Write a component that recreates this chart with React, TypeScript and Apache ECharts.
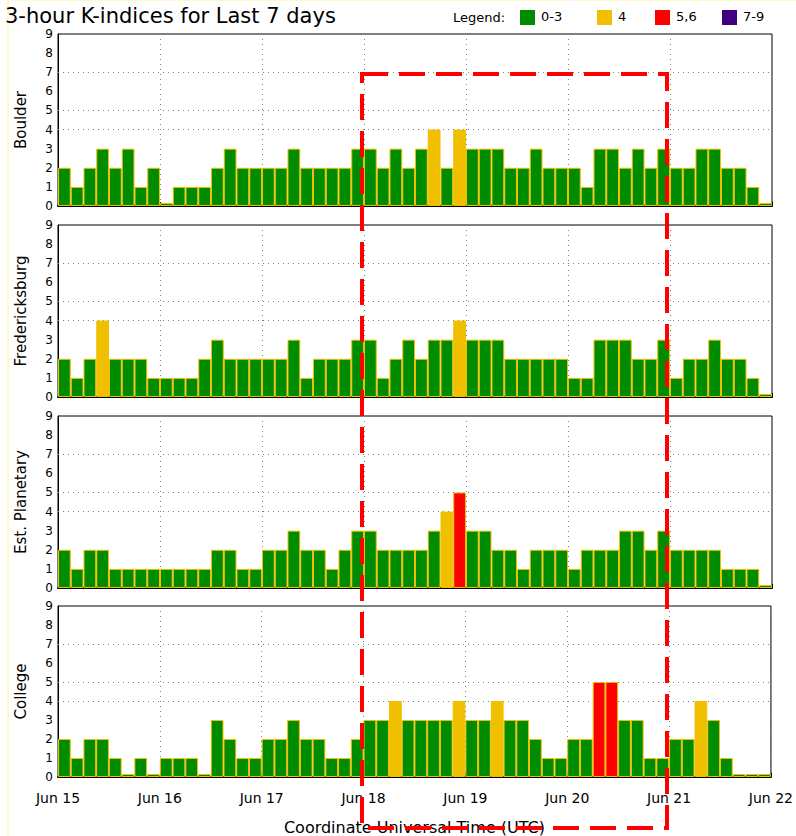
import React, { useEffect, useRef } from "react";
import * as echarts from "echarts";

const stations = ["Boulder", "Fredericksburg", "Est. Planetary", "College"];

const boulder = [2,1,2,3,2,3,1,2, 0,1,1,1,2,3,2,2, 2,2,3,2,2,2,2,3, 3,2,3,2,3,4,2,4, 3,3,3,2,2,3,2,2, 2,1,3,3,2,3,2,3, 2,2,3,3,2,2,1,0];
const fredericksburg = [2,1,2,4,2,2,2,1, 1,1,1,2,3,2,2,2, 2,2,3,1,2,2,2,3, 3,1,2,3,2,3,3,4, 3,3,3,2,2,2,2,2, 1,1,3,3,3,2,2,3, 1,2,2,3,2,2,1,0];
const planetary = [2,1,2,2,1,1,1,1, 1,1,1,1,2,2,1,1, 2,2,3,2,2,1,2,3, 3,2,2,2,2,3,4,5, 3,3,2,2,1,2,2,2, 1,2,2,2,3,3,2,3, 2,2,2,2,1,1,1,0];
const college = [2,1,2,2,1,0,1,0, 1,1,1,0,3,2,1,1, 2,2,3,2,2,1,1,2, 3,3,4,3,3,3,3,4, 3,3,4,3,3,2,1,1, 2,2,5,5,3,3,1,1, 2,2,4,3,1,0,0,0];

const seriesValues = [boulder, fredericksburg, planetary, college];
const dayLabels = ["Jun 15", "Jun 16", "Jun 17", "Jun 18", "Jun 19", "Jun 20", "Jun 21", "Jun 22"];
const yTicks = [0, 1, 2, 3, 4, 5, 6, 7, 8, 9];
const gridLevels = [4, 5, 7];
const legendItems = [
  { label: "0-3", color: "#008c00" },
  { label: "4", color: "#f0c000" },
  { label: "5,6", color: "#ff0000" },
  { label: "7-9", color: "#400080" },
];

const colorFor = (v: number) =>
  v <= 3 ? legendItems[0].color : v === 4 ? legendItems[1].color : v <= 6 ? legendItems[2].color : legendItems[3].color;

const FONT = "DejaVu Sans, sans-serif";

export default function App() {
  const ref = useRef<HTMLDivElement>(null);
  useEffect(() => {
    if (!ref.current) return;
    const chart = echarts.init(ref.current, null, { renderer: "svg" });
    const tops = [34, 225, 416, 606];
    const H = 172;
    const perDay = 8;
    const grids = tops.map((t) => ({
      left: 58,
      width: 714,
      top: t,
      height: H,
      show: true,
      borderColor: "#000",
      borderWidth: 1,
      backgroundColor: "transparent",
    }));
    const xAxes = tops.map((_, i) => ({
      type: "value",
      gridIndex: i,
      min: 0,
      max: 7,
      interval: 1,
      axisLine: { show: true, lineStyle: { color: "#000", width: 2 } },
      axisTick: { show: true, inside: true, length: 4, lineStyle: { color: "#000" } },
      axisLabel: {
        show: i === 3,
        formatter: (v: number) => dayLabels[Math.round(v)],
        fontFamily: FONT,
        fontSize: 14,
        color: "#000",
        margin: 14,
      },
      splitLine: { show: true, lineStyle: { type: [1, 4], color: "#808080", width: 1 } },
      minorSplitLine: { show: false },
      name: i === 3 ? "Coordinate Universal Time (UTC)" : "",
      nameLocation: "middle",
      nameGap: 42,
      nameTextStyle: { fontFamily: FONT, fontSize: 16, color: "#000" },
    }));
    const yAxes = tops.map((_, i) => ({
      type: "value",
      gridIndex: i,
      min: 0,
      max: 9,
      interval: 1,
      axisLine: { show: true, lineStyle: { color: "#000", width: 1 } },
      axisTick: { show: false },
      axisLabel: {
        fontFamily: FONT,
        fontSize: 12,
        color: "#000",
        margin: 5,
        formatter: (v: number) => (yTicks.includes(v) ? String(v) : ""),
      },
      splitLine: { show: false },
      minorSplitLine: { show: false },
      splitArea: { show: false },
      name: stations[i],
      nameLocation: "middle",
      nameRotate: 90,
      nameGap: 30,
      nameTextStyle: { fontFamily: FONT, fontSize: 15, color: "#000" },
    }));
    const series = seriesValues.map((vals, i) => ({
      type: "bar",
      xAxisIndex: i,
      yAxisIndex: i,
      barWidth: 12.75,
      barMinHeight: 3,
      z: 2,
      data: vals.map((v, k) => ({
        value: [(k + 0.5) / perDay, v],
        itemStyle: { color: colorFor(v) },
      })),
      itemStyle: { borderColor: "#f0c000", borderWidth: 1 },
      markLine: {
        silent: true,
        symbol: "none",
        z: 1,
        label: { show: false },
        lineStyle: { type: [1, 4], color: "#808080", width: 1 },
        data: gridLevels.map((l) => ({ yAxis: l })),
      },
    }));

    const legendX = [520, 597, 655, 722];
    const graphic: any[] = [
      {
        type: "rect",
        shape: { x: 8, y: 0, width: 790, height: 840 },
        style: { fill: "transparent", stroke: "#fff8c8", lineWidth: 2 },
        silent: true,
        z: 0,
      },
      {
        type: "text",
        left: 5,
        top: 5,
        style: { text: "3-hour K-indices for Last 7 days", font: `21px ${FONT}`, fill: "#000" },
      },
      {
        type: "text",
        x: 453,
        y: 11,
        style: { text: "Legend:", font: `13px ${FONT}`, fill: "#000" },
      },
    ];
    legendItems.forEach((it, i) => {
      graphic.push({
        type: "rect",
        shape: { x: legendX[i], y: 10, width: 15, height: 15 },
        style: { fill: it.color },
      });
      graphic.push({
        type: "text",
        x: legendX[i] + 21,
        y: 10,
        style: { text: it.label, font: `13px ${FONT}`, fill: "#000" },
      });
    });
    graphic.push({
      type: "rect",
      shape: { x: 362, y: 74, width: 305, height: 754 },
      style: { fill: "transparent", stroke: "#ff0000", lineWidth: 4, lineDash: [26, 11] },
      silent: true,
      z: 100,
    });

    chart.setOption({
      animation: false,
      backgroundColor: "#fff",
      grid: grids,
      xAxis: xAxes,
      yAxis: yAxes,
      series,
      graphic,
    });
    return () => chart.dispose();
  }, []);
  return (
    <div
      ref={ref}
      style={{ position: "absolute", left: 0, top: 0, width: 796, height: 836, background: "#fff" }}
    />
  );
}
